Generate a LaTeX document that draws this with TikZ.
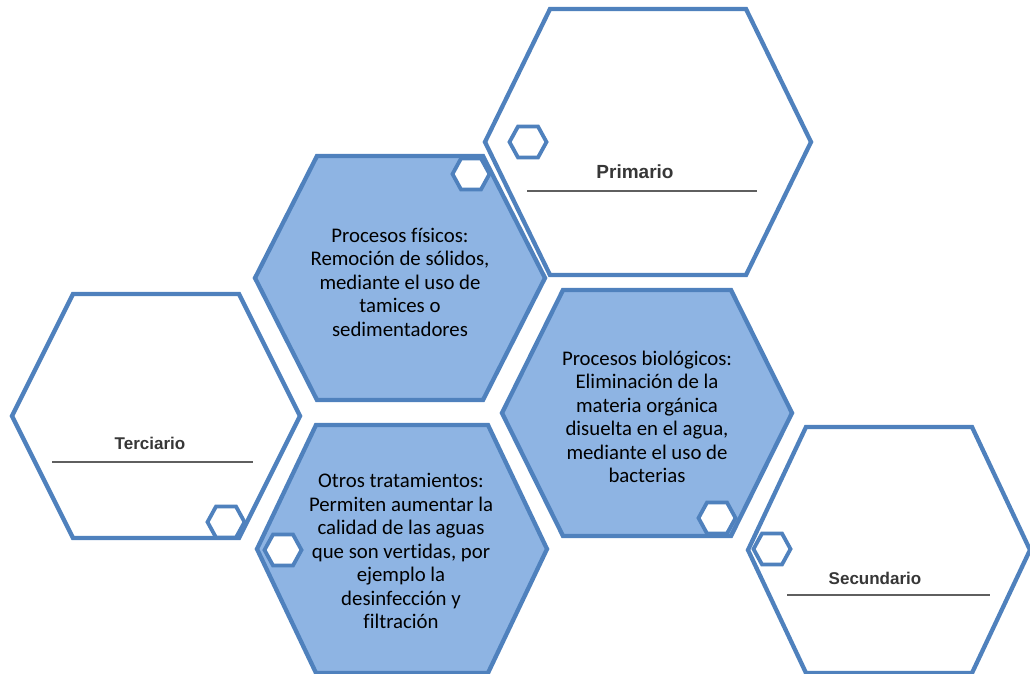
\documentclass[tikz,border=0pt]{standalone}
\usepackage{fontspec}
\setmainfont{Carlito}[Ligatures={NoCommon}]
\newfontfamily\labelfont{Liberation Sans}
\definecolor{hexblue}{RGB}{79,129,189}
\definecolor{hexfill}{RGB}{142,180,227}
\definecolor{labelgray}{RGB}{55,55,55}
\definecolor{rulegray}{RGB}{95,95,95}
% hexagon: centre (#1,#2), half width #3, half top edge #4, half height #5
\newcommand\hexat[5]{(#1-#3,#2) -- (#1-#4,#2-#5) -- (#1+#4,#2-#5) -- (#1+#3,#2) -- (#1+#4,#2+#5) -- (#1-#4,#2+#5) -- cycle}
\tikzset{
  bighex/.style={draw=hexblue, line width=4.3pt, line join=miter},
  whitehex/.style={bighex, fill=white},
  bluehex/.style={bighex, fill=hexfill},
  smallhex/.style={draw=hexblue, line width=3.8pt, fill=white},
  bodytext/.style={align=center, font=\fontsize{20.8}{23.5}\selectfont, text=black, inner sep=0pt},
  steplabel/.style={font=\labelfont\bfseries\fontsize{17}{20}\selectfont, text=labelgray, inner sep=0pt},
  rulerline/.style={draw=rulegray, line width=2.2pt}
}
\begin{document}
\begin{tikzpicture}[x=1pt, y=-1pt]
\useasboundingbox (0,0) rectangle (1030,674);

% large hexagons
\path[whitehex] \hexat{648}{142}{163}{98}{133};
\path[whitehex] \hexat{156}{416}{144}{83}{122};
\path[whitehex] \hexat{889}{550}{141}{83}{123};
\path[bluehex]  \hexat{400}{278}{145}{83}{122};
\path[bluehex]  \hexat{402}{549}{145}{86}{124};
\path[bluehex]  \hexat{647}{413}{145}{84}{123};

% small hexagons
\path[smallhex] \hexat{528}{142}{18.5}{10}{15.5};
\path[smallhex] \hexat{471}{174}{18.5}{10}{15.5};
\path[smallhex] \hexat{226}{522}{18.5}{10}{15.5};
\path[smallhex] \hexat{283}{550}{18.5}{10}{15.5};
\path[smallhex] \hexat{717}{518}{18.5}{10}{15.5};
\path[smallhex] \hexat{772}{549}{18.5}{10}{15.5};

% step titles with their rules
\node[steplabel, font=\labelfont\bfseries\fontsize{19}{22}\selectfont] (primario) at (635,172) {Primario};
\coordinate (pL) at (527,191); \coordinate (pR) at (757,191);
\draw[rulerline] (pL) -- (pR);

\node[steplabel] (terciario) at (150,443) {Terciario};
\coordinate (tL) at (52,462); \coordinate (tR) at (253,462);
\draw[rulerline] (tL) -- (tR);

\node[steplabel] (secundario) at (875,578) {Secundario};
\coordinate (sL) at (787,595); \coordinate (sR) at (990,595);
\draw[rulerline] (sL) -- (sR);

% descriptions
\node[bodytext] (fisicos) at (400,282) {Procesos físicos:\\Remoción de sólidos,\\mediante el uso de\\tamices o\\sedimentadores};
\node[bodytext] (biologicos) at (647,417) {Procesos biológicos:\\Eliminación de la\\materia orgánica\\disuelta en el agua,\\mediante el uso de\\bacterias};
\node[bodytext] (otros) at (401,551) {Otros tratamientos:\\Permiten aumentar la\\calidad de las aguas\\que son vertidas, por\\ejemplo la\\desinfección y\\filtración};
\end{tikzpicture}
\end{document}
